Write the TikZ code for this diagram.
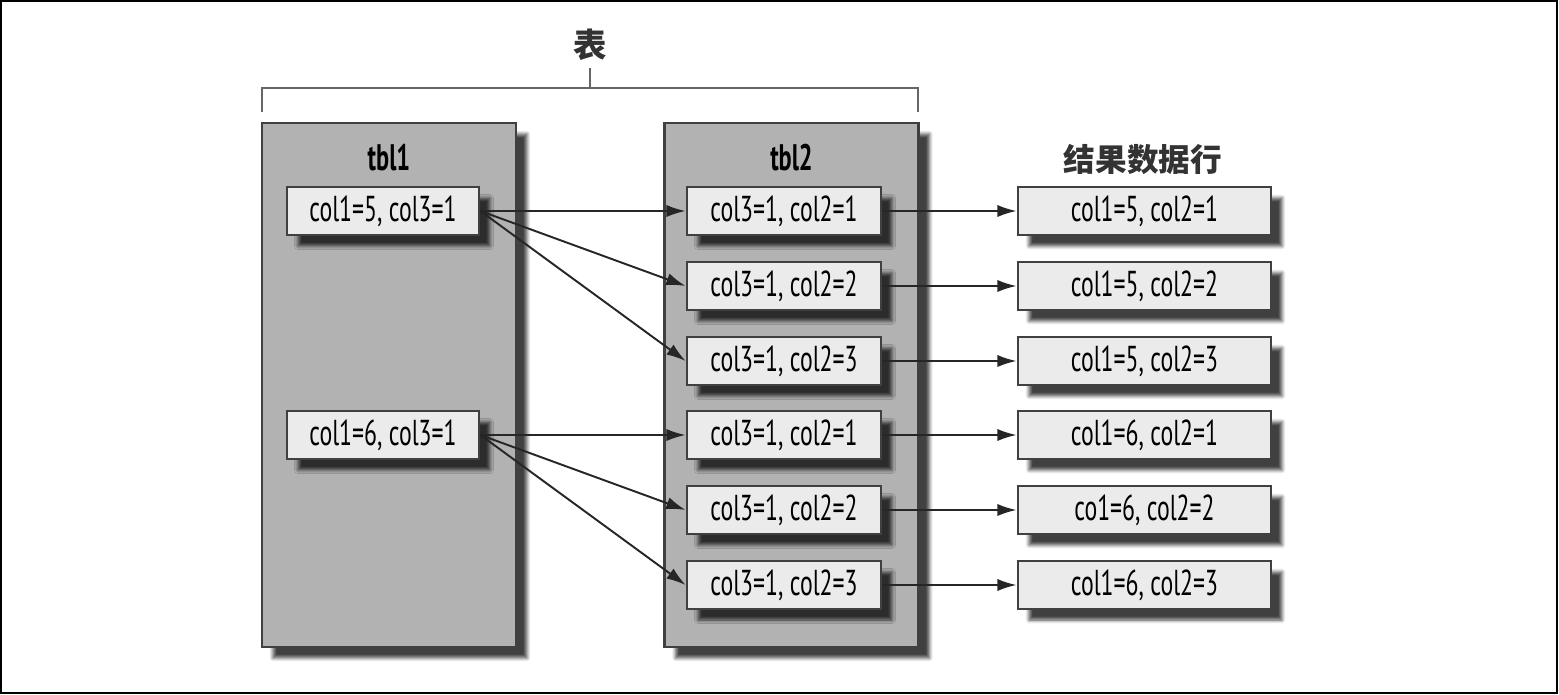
\documentclass[tikz,border=0pt]{standalone}
\usepackage{fontspec}
\setmainfont[FakeStretch=0.66]{PT Sans}
\newfontfamily\cjk{Noto Sans CJK SC}
\usetikzlibrary{arrows.meta,shadows.blur}

\definecolor{tblgray}{gray}{0.70}
\definecolor{rowgray}{gray}{0.92}
\definecolor{edgegray}{gray}{0.25}

\tikzset{
  shade off/.style={blur shadow={shadow xshift=0.22cm, shadow yshift=-0.22cm,
      shadow blur steps=6, shadow opacity=75}},
  tblbox/.style={draw=edgegray, line width=1.6pt, fill=tblgray, shade off,
      minimum width=5.08cm, minimum height=10.48cm, inner sep=0pt},
  rowbox/.style={draw=edgegray, line width=1.6pt, fill=rowgray, shade off,
      minimum height=0.96cm, inner sep=0pt,
      font=\fontsize{20.5}{22}\selectfont},
  title/.style={font=\fontsize{21}{24}\selectfont\bfseries},
  link/.style={-{Latex[length=11pt,width=7pt]}, line width=1.1pt, draw=black!85}
}

\begin{document}
\begin{tikzpicture}[x=0.02cm, y=-0.02cm]
        \useasboundingbox (0,0) rectangle (1559,695);
        \draw [line width=1.2pt] (1,1) rectangle (1557,693);

        % the bracket over both tables
        \node [text=black!80] (tables) at (590,45) {\cjk\fontsize{19}{24}\selectfont\bfseries 表};
        \draw [line width=1.6pt, black!60] (262,112) -- (262,88) -- (918,88) -- (918,112);
        \draw [line width=1.6pt, black!60] (590,88) -- (590,68);

        \node [tblbox] (tbl1) at (389,385) {};
        \node [tblbox] (tbl2) at (791.5,385) {};
        \node [title] at (389,158) {tbl1};
        \node [title] at (791.5,158) {tbl2};
        \node [text=black!80] at (1143,160) {\cjk\fontsize{18}{24}\selectfont\bfseries 结果数据行};

        % tbl1 rows
        \node [rowbox, minimum width=3.84cm] (a1) at (383,211) {col1=5, col3=1};
        \node [rowbox, minimum width=3.84cm] (a2) at (383,435) {col1=6, col3=1};

        % tbl2 rows
        \node [rowbox, minimum width=3.88cm] (b1) at (784,211) {col3=1, col2=1};
        \node [rowbox, minimum width=3.88cm] (b2) at (784,286) {col3=1, col2=2};
        \node [rowbox, minimum width=3.88cm] (b3) at (784,361) {col3=1, col2=3};
        \node [rowbox, minimum width=3.88cm] (b4) at (784,435) {col3=1, col2=1};
        \node [rowbox, minimum width=3.88cm] (b5) at (784,510) {col3=1, col2=2};
        \node [rowbox, minimum width=3.88cm] (b6) at (784,585) {col3=1, col2=3};

        % result rows
        \node [rowbox, minimum width=5.06cm] (r1) at (1144.5,211) {col1=5, col2=1};
        \node [rowbox, minimum width=5.06cm] (r2) at (1144.5,286) {col1=5, col2=2};
        \node [rowbox, minimum width=5.06cm] (r3) at (1144.5,361) {col1=5, col2=3};
        \node [rowbox, minimum width=5.06cm] (r4) at (1144.5,435) {col1=6, col2=1};
        \node [rowbox, minimum width=5.06cm] (r5) at (1144.5,510) {co1=6, col2=2};
        \node [rowbox, minimum width=5.06cm] (r6) at (1144.5,585) {col1=6, col2=3};

        \draw [link] (a1.east) -- (b1.west);
        \draw [link] (a1.east) -- (b2.west);
        \draw [link] (a1.east) -- (b3.west);
        \draw [link] (a2.east) -- (b4.west);
        \draw [link] (a2.east) -- (b5.west);
        \draw [link] (a2.east) -- (b6.west);

        \draw [link] (b1.east) -- (r1.west);
        \draw [link] (b2.east) -- (r2.west);
        \draw [link] (b3.east) -- (r3.west);
        \draw [link] (b4.east) -- (r4.west);
        \draw [link] (b5.east) -- (r5.west);
        \draw [link] (b6.east) -- (r6.west);
      \end{tikzpicture}
\end{document}
